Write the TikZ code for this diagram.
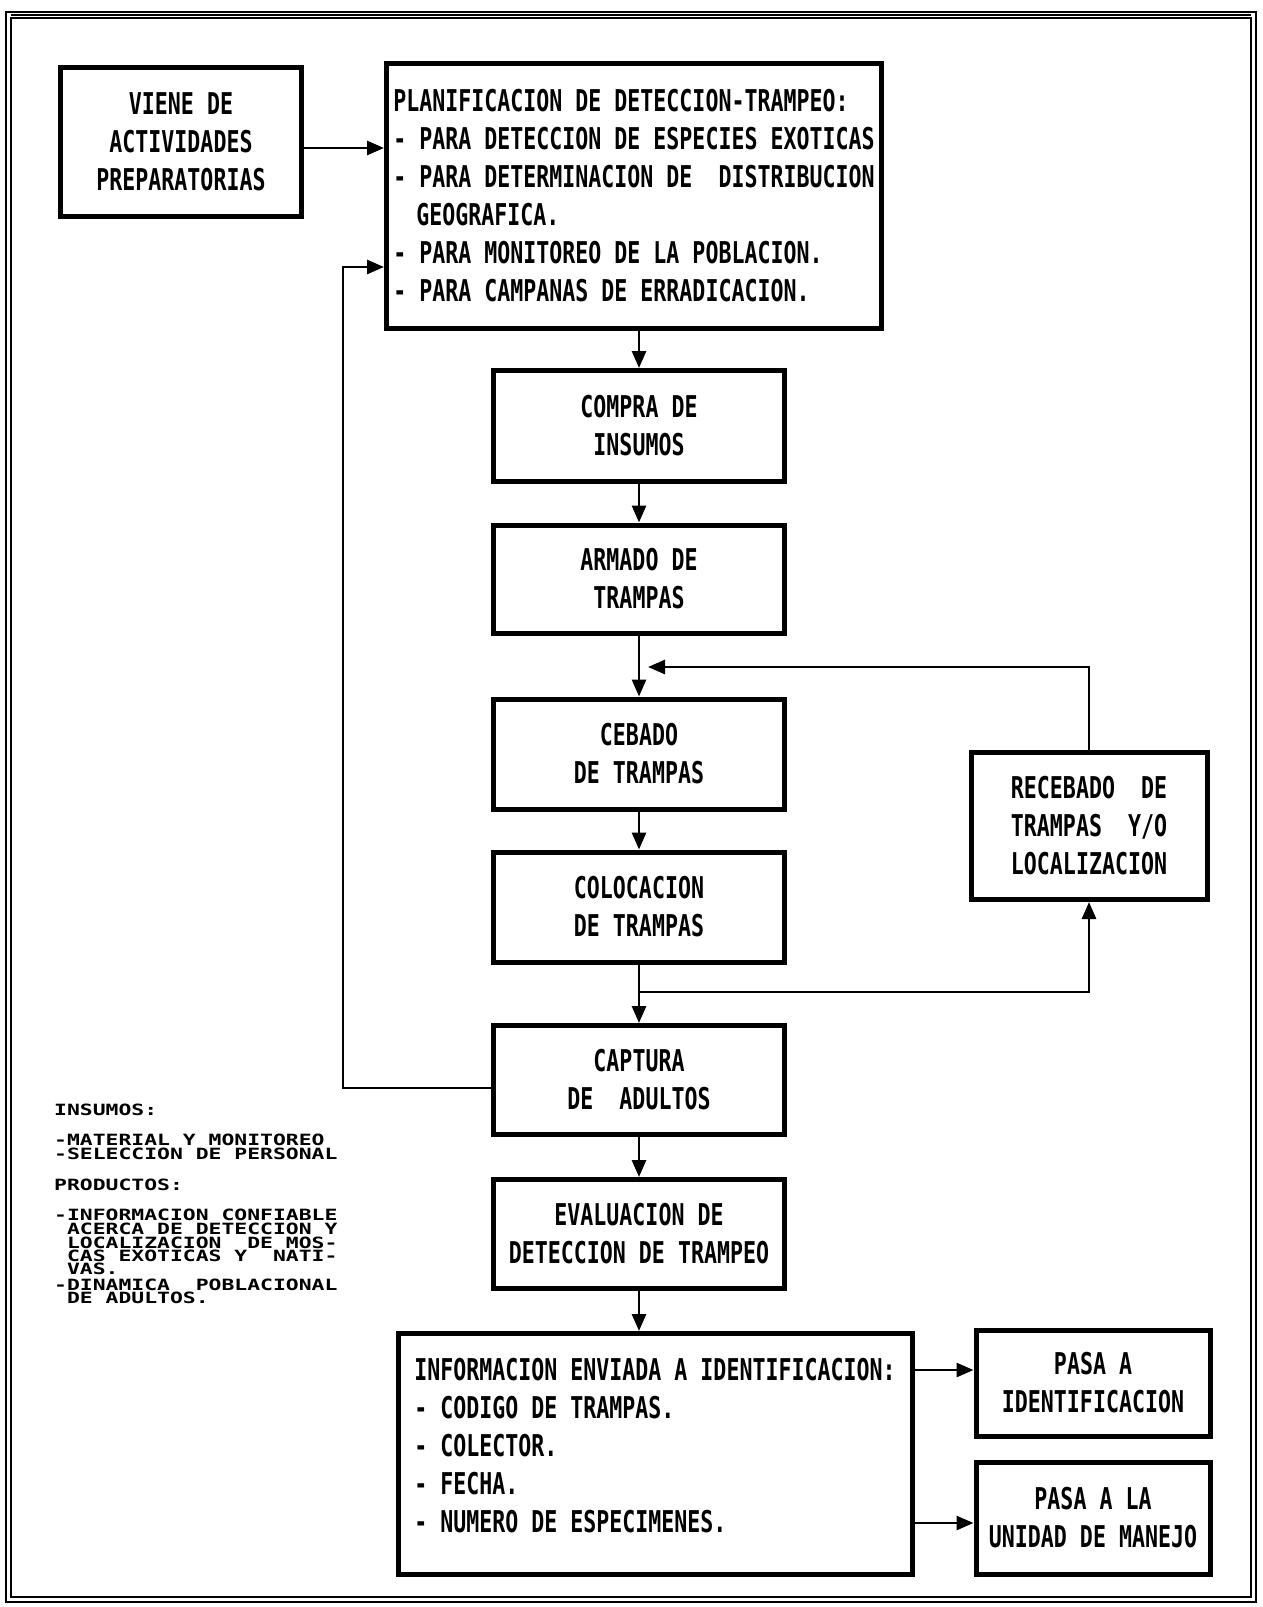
\documentclass[tikz,border=0pt]{standalone}
\usepackage{fontspec}
\usetikzlibrary{arrows.meta,calc}
\newfontfamily\boxfont[FakeStretch=0.72]{DejaVu Sans Mono Bold}
\newfontfamily\notefont[FakeStretch=1.38]{DejaVu Sans Mono Bold}
\newcommand\mynotesetup{\notefont\fontsize{15.5}{13}\selectfont\lineskiplimit=-50pt\relax}
\newcommand\myboxsetup{\boxfont\fontsize{30}{38}\selectfont}
\begin{document}
\begin{tikzpicture}[x=1pt,y=-1pt,
  box/.style={draw, line width=5pt, rectangle, inner sep=0pt, align=center,
    font=\myboxsetup},
  arr/.style={line width=2.8pt, -{Triangle[length=17pt,width=14pt]}}]
\useasboundingbox (0,0) rectangle (1262,1607);
% outer frame
\draw[line width=2.2pt] (6,12) rectangle (1256,1602);
\draw[line width=1.2pt] (11,18) rectangle (1251,1597);
\draw[line width=2pt] (11,15) -- (1251,15);

% boxes
\node[box, minimum width=241pt, minimum height=149pt] (viene) at (181,142)
  {VIENE DE\\ACTIVIDADES\\PREPARATORIAS};
\node[box, minimum width=495pt, minimum height=265pt, align=left] (planif) at (634,196)
  {PLANIFICACION DE DETECCION-TRAMPEO:\\- PARA DETECCION DE ESPECIES EXOTICAS\\- PARA DETERMINACION DE\ \ DISTRIBUCION\\\hspace*{23pt}GEOGRAFICA.\\- PARA MONITOREO DE LA POBLACION.\\- PARA CAMPANAS DE ERRADICACION.};
\node[box, minimum width=291pt, minimum height=111pt] (compra) at (639,426) {COMPRA DE\\INSUMOS};
\node[box, minimum width=291pt, minimum height=108pt] (armado) at (639,579) {ARMADO DE\\TRAMPAS};
\node[box, minimum width=291pt, minimum height=110pt] (cebado) at (639,754) {CEBADO\\DE TRAMPAS};
\node[box, minimum width=291pt, minimum height=110pt] (coloc) at (639,907) {COLOCACION\\DE TRAMPAS};
\node[box, minimum width=291pt, minimum height=109pt] (captura) at (639,1080) {CAPTURA\\DE\ \ ADULTOS};
\node[box, minimum width=291pt, minimum height=109pt] (evalua) at (639,1234) {EVALUACION DE\\DETECCION DE TRAMPEO};
\node[box, minimum width=236pt, minimum height=147pt] (recebado) at (1089,826)
  {RECEBADO\ \ DE\\TRAMPAS\ \ Y/O\\LOCALIZACION};
\node[box, minimum width=514pt, minimum height=241pt, align=left] (info) at (655,1454)
  {INFORMACION ENVIADA A IDENTIFICACION:\\- CODIGO DE TRAMPAS.\\- COLECTOR.\\- FECHA.\\- NUMERO DE ESPECIMENES.\\[-20pt]\mbox{}};
\node[box, minimum width=234pt, minimum height=106pt] (pasa1) at (1093,1383) {PASA A\\IDENTIFICACION};
\node[box, minimum width=234pt, minimum height=112pt] (pasa2) at (1093,1518) {PASA A LA\\UNIDAD DE MANEJO};

% notes
\node[anchor=north west, inner sep=0pt, align=left, font=\mynotesetup] (notes) at (54,1104)
  {INSUMOS:\\[17pt]
   -MATERIAL Y MONITOREO\\[1pt]
   -SELECCION DE PERSONAL\\[18pt]
   PRODUCTOS:\\[17pt]
   -INFORMACION CONFIABLE\\[0.5pt]
   \phantom{-}ACERCA DE DETECCION Y\\[1pt]
   \phantom{-}LOCALIZACION\ \ DE MOS-\\[0.5pt]
   \phantom{-}CAS EXOTICAS Y\ \ NATI-\\[0pt]
   \phantom{-}VAS.\\[3pt]
   -DINAMICA\ \ POBLACIONAL\\[0pt]
   \phantom{-}DE ADULTOS.};

% helper coordinates
\coordinate (va) at (0,148);
\coordinate (fbx) at (343,1088);
\coordinate (fby) at (343,267);
\coordinate (lp) at (648,667);
\coordinate (br) at (639,992);
\coordinate (p1) at (0,1370);
\coordinate (p2) at (0,1523);

% connectors
\draw[arr] (viene.east |- va) -- (planif.west |- va);
\draw[arr] (captura.west |- fbx) -- (fbx) -- (fby) -- (planif.west |- fby);
\draw[arr] (compra.north |- planif.south) -- (compra.north);
\draw[arr] (compra.south) -- (armado.north);
\draw[arr] (armado.south) -- (cebado.north);
\draw[arr] (recebado.north) -- (recebado.north |- lp) -- (lp);
\draw[arr] (cebado.south) -- (coloc.north);
\draw[arr] (coloc.south) -- (captura.north);
\draw[arr] (br) -- (br -| recebado.south) -- (recebado.south);
\draw[arr] (captura.south) -- (evalua.north);
\draw[arr] (evalua.south) -- (evalua.south |- info.north);
\draw[arr] (info.east |- p1) -- (pasa1.west |- p1);
\draw[arr] (info.east |- p2) -- (pasa2.west |- p2);
\end{tikzpicture}
\end{document}
